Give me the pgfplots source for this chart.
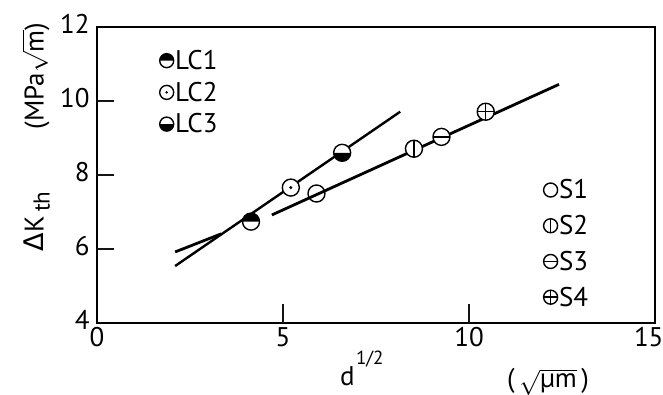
\documentclass[border=0pt]{standalone}
\usepackage{fontspec}
\setmainfont{PT Sans}
\newfontfamily\dv{DejaVu Sans}
\usepackage{amsmath}
\usepackage{pgfplots}
\pgfplotsset{compat=1.18}
\definecolor{ink}{rgb}{0,0,0}
\definecolor{tickink}{rgb}{0.08,0.08,0.08}

\pgfdeclareplotmark{Sv}{%
  \pgfpathcircle{\pgfpointorigin}{\pgfplotmarksize}%
  \pgfusepathqfillstroke
  \pgfpathmoveto{\pgfqpoint{0pt}{\pgfplotmarksize}}%
  \pgfpathlineto{\pgfqpoint{0pt}{-\pgfplotmarksize}}%
  \pgfusepathqstroke}
\pgfdeclareplotmark{Sh}{%
  \pgfpathcircle{\pgfpointorigin}{\pgfplotmarksize}%
  \pgfusepathqfillstroke
  \pgfpathmoveto{\pgfqpoint{\pgfplotmarksize}{0pt}}%
  \pgfpathlineto{\pgfqpoint{-\pgfplotmarksize}{0pt}}%
  \pgfusepathqstroke}
\pgfdeclareplotmark{Sp}{%
  \pgfpathcircle{\pgfpointorigin}{\pgfplotmarksize}%
  \pgfusepathqfillstroke
  \pgfpathmoveto{\pgfqpoint{\pgfplotmarksize}{0pt}}%
  \pgfpathlineto{\pgfqpoint{-\pgfplotmarksize}{0pt}}%
  \pgfpathmoveto{\pgfqpoint{0pt}{\pgfplotmarksize}}%
  \pgfpathlineto{\pgfqpoint{0pt}{-\pgfplotmarksize}}%
  \pgfusepathqstroke}
\pgfdeclareplotmark{LCtop}{%
  \pgfpathcircle{\pgfpointorigin}{\pgfplotmarksize}%
  \pgfusepathqfillstroke
  \pgfpathmoveto{\pgfqpoint{\pgfplotmarksize}{0pt}}%
  \pgfpatharc{0}{180}{\pgfplotmarksize}%
  \pgfpathclose
  \pgfsetfillcolor{ink}%
  \pgfusepathqfill}
\pgfdeclareplotmark{LCbot}{%
  \pgfpathcircle{\pgfpointorigin}{\pgfplotmarksize}%
  \pgfusepathqfillstroke
  \pgfpathmoveto{\pgfqpoint{-\pgfplotmarksize}{0pt}}%
  \pgfpatharc{180}{360}{\pgfplotmarksize}%
  \pgfpathclose
  \pgfsetfillcolor{ink}%
  \pgfusepathqfill}
\pgfdeclareplotmark{LCdot}{%
  \pgfpathcircle{\pgfpointorigin}{\pgfplotmarksize}%
  \pgfusepathqfillstroke
  \pgfpathcircle{\pgfpointorigin}{0.2\pgfplotmarksize}%
  \pgfsetfillcolor{ink}%
  \pgfusepathqfill}

\newcommand\bigf{\fontsize{27}{30}\selectfont}
\pgfplotsset{
  pt/.style={only marks, mark=#1, mark size=8.5pt,
    mark options={line width=1.4pt, draw=black, fill=white, solid}},
  ln/.style={forget plot, no marks, black, line width=#1},
  common/.style={at={(0pt,0pt)}, anchor=south west, scale only axis,
    width=558pt, height=296pt, xmin=0, xmax=15, ymin=4, ymax=12, clip=false,
    legend image code/.code={\draw[##1, mark size=7pt] plot coordinates {(0pt,0pt)};},
    legend cell align=left},
}

\begin{document}
\begin{tikzpicture}
\useasboundingbox (-97pt,-72pt) rectangle (566pt,323pt);
\begin{axis}[common,
  axis line style={line width=1.8pt},
  xtick={0,5,10,15}, xticklabels={0,5,10,{\makebox[0pt][l]{\hspace{-21pt}15}}},
  ytick={4,6,8,10,12}, yticklabels={4,6,8,10,12},
  tick align=inside, xtick pos=left, ytick pos=left,
  major tick length=17pt,
  every tick/.style={line width=2.2pt, draw=tickink},
  tick label style={font=\bigf},
  xticklabel style={yshift=-1pt},
  yticklabel style={xshift=-4pt, yshift=3pt},
  legend style={draw=none, fill=none, at={(rel axis cs:0.80,0.49)}, anchor=north west,
    font=\bigf, row sep=12pt, inner sep=0pt, nodes={inner sep=1.5pt}},
]
\addplot[ln=2.8pt] coordinates {(2.1,5.92) (3.34,6.41)};
\addplot[ln=2.8pt] coordinates {(4.70,6.92) (12.42,10.45)};
\addplot[pt=o] coordinates {(5.90,7.50)};
\addlegendentry{S1}
\addplot[pt=Sv] coordinates {(8.52,8.71)};
\addlegendentry{S2}
\addplot[pt=Sh] coordinates {(9.26,9.03)};
\addlegendentry{S3}
\addplot[pt=Sp] coordinates {(10.45,9.71)};
\addlegendentry{S4}
\end{axis}
\begin{axis}[common, hide axis,
  legend style={draw=none, fill=none, at={(rel axis cs:0.112,0.927)}, anchor=north west,
    font=\bigf, row sep=8pt, inner sep=0pt, nodes={inner sep=1.5pt}},
]
\addplot[ln=2.4pt] coordinates {(2.1,5.54) (8.15,9.71)};
\addplot[pt=LCtop] coordinates {(4.14,6.74)};
\addlegendentry{LC1}
\addplot[pt=LCdot] coordinates {(5.21,7.66)};
\addlegendentry{LC2}
\addplot[pt=LCbot] coordinates {(6.59,8.60)};
\addlegendentry{LC3}
\end{axis}
% inner tick marks as filled bars (axis frame 558pt x 296pt, origin at its lower left)
\fill[tickink] (185pt,0pt) rectangle (187.2pt,19pt);
\fill[tickink] (371pt,0pt) rectangle (373.2pt,19pt);
\fill[tickink] (0pt,73pt) rectangle (17pt,75.2pt);
\fill[tickink] (0pt,147pt) rectangle (17pt,149.2pt);
\fill[tickink] (0pt,221pt) rectangle (17pt,223.2pt);
% axis titles
\node[rotate=90, anchor=south, font=\bigf, inner sep=0pt] at (-47pt,186pt)
  {{\dv Δ}K\,\raisebox{-0.22em}{\fontsize{23}{25}\selectfont th}\hspace{2.3em}(MPa$\sqrt{\text{m}}$)};
\node[anchor=base west, font=\bigf, inner sep=0pt] (dd) at (243pt,-63pt) {d};
\node[anchor=base west, font=\fontsize{19}{21}\selectfont, inner sep=0pt] at ([xshift=1pt,yshift=21pt]dd.base east) {1/2};
\node[anchor=base west, font=\bigf, inner sep=0pt] at (410pt,-65pt)
  {(\,$\sqrt{\text{µm}}$\,)};
\end{tikzpicture}
\end{document}
